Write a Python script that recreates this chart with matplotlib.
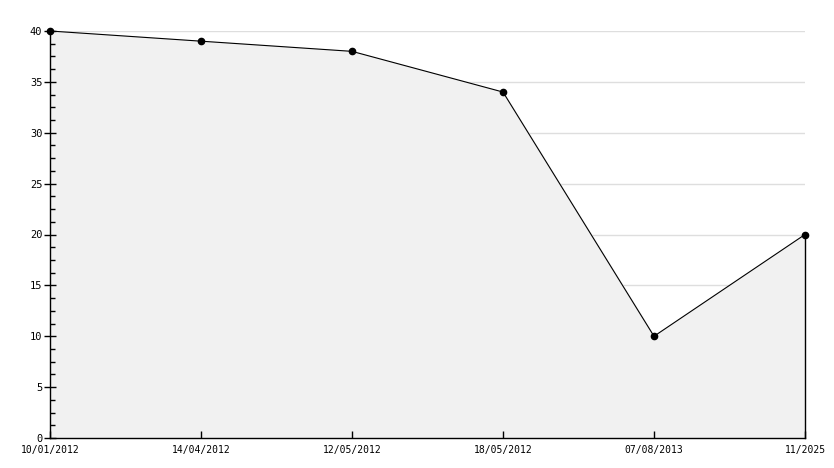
import matplotlib
matplotlib.use("Agg")
import matplotlib.pyplot as plt
import matplotlib.transforms as mtransforms
from matplotlib.ticker import MultipleLocator

dates = ["10/01/2012", "14/04/2012", "12/05/2012", "18/05/2012", "07/08/2013", "11/2025"]
values = [40, 39, 38, 34, 10, 20]

plt.rcParams['font.family'] = ['DejaVu Sans Mono']

fig = plt.figure(figsize=(8.34, 4.68), dpi=100)
ax = fig.add_axes([50 / 834, 30 / 468, 755 / 834, 407 / 468])

x = list(range(len(dates)))

# grid under the fill
for y in range(5, 41, 5):
    ax.axhline(y, color="#dedede", lw=1, zorder=0)

ax.fill_between(x, values, 0, color="#f1f1f1", zorder=1)
ax.plot(x, values, color="black", lw=0.8, zorder=3, clip_on=False)
ax.plot(x, values, ls="none", marker="o", ms=4.5, color="black", zorder=4, clip_on=False)
ax.plot([x[-1], x[-1]], [0, values[-1]], color="black", lw=1, zorder=3, clip_on=False)

ax.set_xlim(0, len(dates) - 1)
ax.set_ylim(0, 40)
ax.set_xticks(x)
ax.set_xticklabels(dates, fontsize=7)
ax.yaxis.set_major_locator(MultipleLocator(5))
ax.yaxis.set_minor_locator(MultipleLocator(1.25))
ax.tick_params(axis="y", which="major", direction="inout", length=9, width=1, labelsize=7.5, pad=1)
ax.tick_params(axis="y", which="minor", direction="in", length=3.5, width=1)
ax.tick_params(axis="x", which="major", direction="in", length=5, width=1, labelsize=7, pad=5)

# the "0" label sits a bit higher, like the original
fig.canvas.draw()
lbl0 = ax.get_yticklabels()[0]
lbl0.set_transform(lbl0.get_transform() + mtransforms.ScaledTranslation(0, 4 / 100, fig.dpi_scale_trans))

for s in ["top", "right"]:
    ax.spines[s].set_visible(False)
ax.spines["left"].set_linewidth(1)
ax.spines["bottom"].set_linewidth(1)
ax.set_facecolor("white")

fig.savefig("out.png", dpi=100)
